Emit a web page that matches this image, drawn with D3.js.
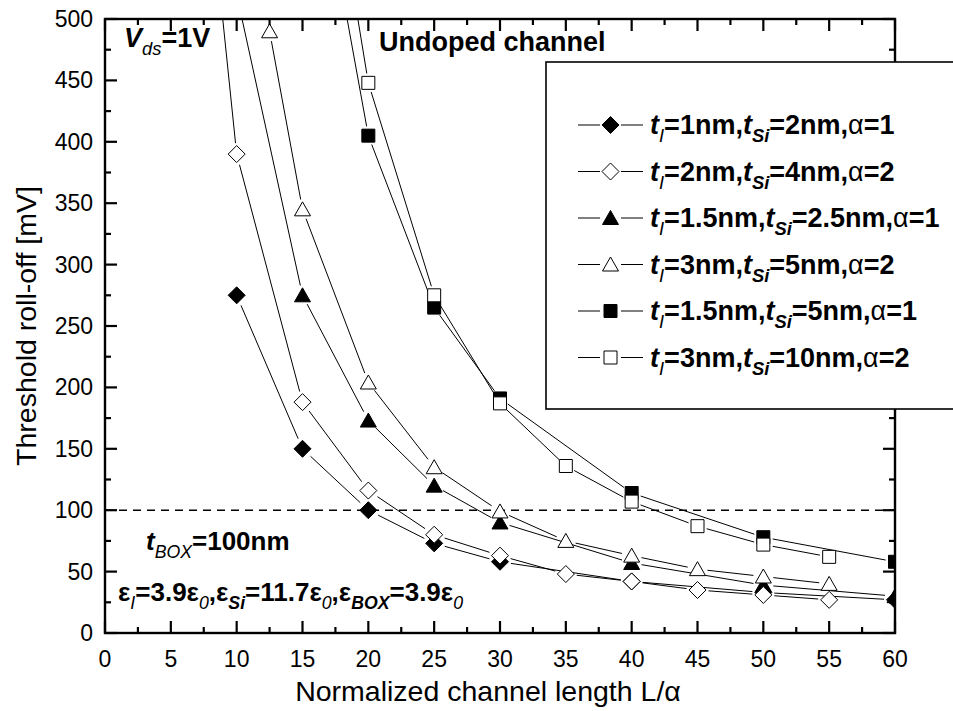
<!DOCTYPE html>
<html>
<head>
<meta charset="utf-8">
<script src="https://cdn.jsdelivr.net/npm/d3@7/dist/d3.min.js"></script>
<style>
  body { margin: 0; background: #fff; }
  svg { display: block; }
  text { font-family: "Liberation Sans", Arial, sans-serif; fill: #000; }
</style>
</head>
<body>
<svg id="chart" width="953" height="711"></svg>
<script>
// Axis ticks
const xMajorTicks = [0, 5, 10, 15, 20, 25, 30, 35, 40, 45, 50, 55, 60];
const yMajorTicks = [0, 50, 100, 150, 200, 250, 300, 350, 400, 450, 500];

// Threshold roll-off [mV] versus normalized channel length L/alpha
const lenA = [10, 15, 20, 25, 30, 40, 50, 60];
const rollA = [275, 150, 100, 73, 58, 42, 33, 27];              // tI=1nm, tSi=2nm, a=1
const lenB = [7.5, 10, 15, 20, 25, 30, 35, 40, 45, 50, 55];
const rollB = [650, 390, 188, 116, 80, 63, 48, 42, 35, 31, 27]; // tI=2nm, tSi=4nm, a=2
const lenC = [10, 15, 20, 25, 30, 40, 50, 60];
const rollC = [520, 275, 173, 120, 90, 57, 39, 30];             // tI=1.5nm, tSi=2.5nm, a=1
const lenD = [12.5, 15, 20, 25, 30, 35, 40, 45, 50, 55];
const rollD = [490, 345, 204, 135, 99, 75, 63, 52, 46, 40];     // tI=3nm, tSi=5nm, a=2
const lenE = [15, 20, 25, 30, 40, 50, 60];
const rollE = [700, 405, 265, 191, 114, 78, 58];                // tI=1.5nm, tSi=5nm, a=1
const lenF = [15, 20, 25, 30, 35, 40, 45, 50, 55];
const rollF = [775, 448, 275, 187, 136, 107, 87, 72, 62];       // tI=3nm, tSi=10nm, a=2

// Legend entries: tI, tSi, alpha
const legendTI = ["1nm", "2nm", "1.5nm", "3nm", "1.5nm", "3nm"];
const legendTSi = ["2nm", "4nm", "2.5nm", "5nm", "5nm", "10nm"];
const legendAlpha = ["1", "2", "1", "2", "1", "2"];

const referenceLevel = 100;

const W = 953, H = 711;
const M = { left: 105, right: 58, top: 19, bottom: 78 };
const svg = d3.select("#chart");

const x = d3.scaleLinear().domain([0, 60]).range([M.left, W - M.right]);
const y = d3.scaleLinear().domain([0, 500]).range([H - M.bottom, M.top]);

const series = [
  { xs: lenA, ys: rollA, shape: "diamond", filled: true },
  { xs: lenC, ys: rollC, shape: "triangle", filled: true },
  { xs: lenE, ys: rollE, shape: "square", filled: true },
  { xs: lenB, ys: rollB, shape: "diamond", filled: false },
  { xs: lenD, ys: rollD, shape: "triangle", filled: false },
  { xs: lenF, ys: rollF, shape: "square", filled: false }
];
const legendOrder = [
  { shape: "diamond", filled: true },
  { shape: "diamond", filled: false },
  { shape: "triangle", filled: true },
  { shape: "triangle", filled: false },
  { shape: "square", filled: true },
  { shape: "square", filled: false }
];

function markerPath(shape) {
  if (shape === "diamond") return "M0,-8.5L8.5,0L0,8.5L-8.5,0Z";
  if (shape === "triangle") return "M0,-7.5L8,6.5L-8,6.5Z";
  return "M-6.5,-6.5H6.5V6.5H-6.5Z";
}
const markerGap = { diamond: 11, triangle: 10, square: 9.5 };

// Plot clip
svg.append("defs").append("clipPath").attr("id", "plotClip")
  .append("rect")
  .attr("x", M.left).attr("y", M.top)
  .attr("width", W - M.left - M.right).attr("height", H - M.top - M.bottom);

const plot = svg.append("g").attr("clip-path", "url(#plotClip)");

// Reference dashed line
plot.append("line")
  .attr("x1", x(0)).attr("x2", x(60))
  .attr("y1", y(referenceLevel)).attr("y2", y(referenceLevel))
  .attr("stroke", "#000").attr("stroke-width", 1.4)
  .attr("stroke-dasharray", "8,6");

// Connecting lines, stopping short of each symbol
series.forEach(s => {
  const pts = s.xs.map((v, i) => [x(v), y(s.ys[i])]);
  const g = markerGap[s.shape];
  for (let i = 0; i < pts.length - 1; i++) {
    const [xa, ya] = pts[i], [xb, yb] = pts[i + 1];
    const dx = xb - xa, dy = yb - ya, d = Math.hypot(dx, dy);
    if (d <= 2 * g) continue;
    const ux = dx / d, uy = dy / d;
    plot.append("line")
      .attr("x1", xa + ux * g).attr("y1", ya + uy * g)
      .attr("x2", xb - ux * g).attr("y2", yb - uy * g)
      .attr("stroke", "#000").attr("stroke-width", 1);
  }
});

// Symbols
series.forEach(s => {
  plot.selectAll(null)
    .data(s.xs.map((v, i) => ({ lx: v, ly: s.ys[i] })))
    .join("path")
    .attr("transform", d => `translate(${x(d.lx)},${y(d.ly)})`)
    .attr("d", markerPath(s.shape))
    .attr("fill", s.filled ? "#000" : "#fff")
    .attr("stroke", "#000").attr("stroke-width", 1);
});

// Frame and ticks on all four sides (inward)
const axisG = svg.append("g");
const x0 = x(0), x1 = x(60), yb = y(0), yt = y(500);
axisG.append("rect")
  .attr("x", x0).attr("y", yt).attr("width", x1 - x0).attr("height", yb - yt)
  .attr("fill", "none").attr("stroke", "#000").attr("stroke-width", 2.4);

const xMinor = d3.range(2.5, 60, 5);
const yMinor = d3.range(25, 500, 50);
function tick(xa, ya, xb, yb_) {
  axisG.append("line").attr("x1", xa).attr("y1", ya).attr("x2", xb).attr("y2", yb_)
    .attr("stroke", "#000").attr("stroke-width", 2.2);
}
xMajorTicks.forEach(v => { tick(x(v), yb, x(v), yb - 12); tick(x(v), yt, x(v), yt + 12); });
xMinor.forEach(v => { tick(x(v), yb, x(v), yb - 6); tick(x(v), yt, x(v), yt + 6); });
yMajorTicks.forEach(v => { tick(x0, y(v), x0 + 12, y(v)); tick(x1, y(v), x1 - 12, y(v)); });
yMinor.forEach(v => { tick(x0, y(v), x0 + 6, y(v)); tick(x1, y(v), x1 - 6, y(v)); });

// Tick labels
svg.append("g").selectAll("text").data(xMajorTicks).join("text")
  .attr("x", d => x(d)).attr("y", yb + 34)
  .attr("text-anchor", "middle").attr("font-size", 23).text(d => d);
svg.append("g").selectAll("text").data(yMajorTicks).join("text")
  .attr("x", x0 - 12).attr("y", d => y(d) + 8)
  .attr("text-anchor", "end").attr("font-size", 23).text(d => d);

// Axis titles
svg.append("text")
  .attr("x", 488).attr("y", 701)
  .attr("text-anchor", "middle").attr("font-size", 28.5)
  .text("Normalized channel length L/α");
svg.append("text")
  .attr("transform", `translate(36,${(yt + yb) / 2}) rotate(-90)`)
  .attr("text-anchor", "middle").attr("font-size", 28.5)
  .text("Threshold roll-off [mV]");

// Mixed-style text: runs of [text, flags] with b=bold, i=italic, s=subscript
function rich(parent, px, py, runs, size) {
  const t = parent.append("text").attr("x", px).attr("y", py).attr("font-size", size);
  runs.forEach(([str, f]) => {
    const sp = t.append("tspan").text(str)
      .attr("font-weight", f.includes("b") ? "bold" : "normal")
      .attr("font-style", f.includes("i") ? "italic" : "normal");
    if (f.includes("s")) sp.attr("font-size", size * 0.68).attr("baseline-shift", -size * 0.3);
  });
  return t;
}

rich(svg, 124, 47, [["V", "bi"], ["ds", "is"], ["=1V", "b"]], 27);
rich(svg, 379, 51, [["Undoped channel", "b"]], 27);
rich(svg, 146, 550, [["t", "bi"], ["BOX", "is"], ["=100nm", "b"]], 26);
rich(svg, 118, 601, [
  ["ε", "b"], ["I", "is"], ["=3.9ε", "b"], ["0", "is"],
  [",ε", "b"], ["Si", "bis"], ["=11.7ε", "b"], ["0", "is"],
  [",ε", "b"], ["BOX", "bis"], ["=3.9ε", "b"], ["0", "is"]
], 26);

// Legend
const leg = svg.append("g");
leg.append("rect")
  .attr("x", 546).attr("y", 62).attr("width", 420).attr("height", 347)
  .attr("fill", "#fff").attr("stroke", "#000").attr("stroke-width", 1.6);
legendOrder.forEach((e, i) => {
  const ry = 125 + i * 46.5;
  leg.append("line").attr("x1", 578).attr("x2", 600).attr("y1", ry).attr("y2", ry)
    .attr("stroke", "#000").attr("stroke-width", 1);
  leg.append("line").attr("x1", 621).attr("x2", 643).attr("y1", ry).attr("y2", ry)
    .attr("stroke", "#000").attr("stroke-width", 1);
  leg.append("path").attr("transform", `translate(610.5,${ry})`)
    .attr("d", markerPath(e.shape))
    .attr("fill", e.filled ? "#000" : "#fff").attr("stroke", "#000").attr("stroke-width", 1);
  rich(leg, 650, ry + 9, [
    ["t", "bi"], ["I", "is"], ["=" + legendTI[i] + ",", "b"],
    ["t", "bi"], ["Si", "bis"], ["=" + legendTSi[i] + ",", "b"],
    ["α", ""], ["=" + legendAlpha[i], "b"]
  ], 27);
});
</script>
</body>
</html>
